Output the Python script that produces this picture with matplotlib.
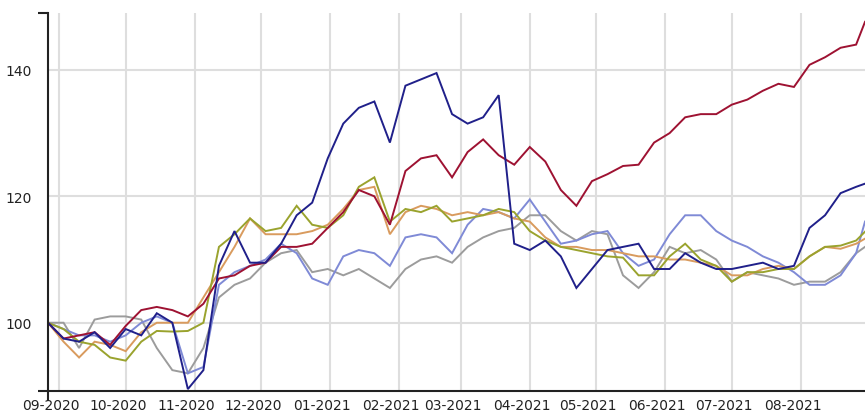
import matplotlib
matplotlib.use('Agg')
import matplotlib.pyplot as plt
import matplotlib.dates as mdates
from matplotlib.transforms import ScaledTranslation
import pandas as pd

# weekly readings, plus the last day shown
dates = list(pd.date_range('2020-08-27', periods=53, freq='7D')) + [pd.Timestamp('2021-08-30')]

navy = [100, 97.5, 97, 98.5, 96, 99, 98, 101.5, 100, 89.5, 92.5, 109, 114.5, 109.5, 109.5, 112.5,
        117, 119, 126, 131.5, 134, 135, 128.5, 137.5, 138.5, 139.5, 133, 131.5, 132.5, 136, 112.5,
        111.5, 113, 110.5, 105.5, 108.5, 111.5, 112, 112.5, 108.5, 108.5, 111, 109.5, 108.5, 108.5,
        109, 109.5, 108.5, 109, 115, 117, 120.5, 121.5, 122]
crimson = [100, 97.5, 98, 98.5, 96.5, 99.5, 102, 102.5, 102, 101, 103, 107, 107.5, 109, 109.5, 112,
           112, 112.5, 115, 117.5, 121, 120, 115.5, 124, 126, 126.5, 123, 127, 129, 126.5, 125,
           127.8, 125.5, 121, 118.5, 122.4, 123.5, 124.8, 125, 128.5, 130, 132.5, 133, 133, 134.5,
           135.3, 136.7, 137.8, 137.3, 140.8, 142, 143.5, 144, 147.6]
olive = [100, 99, 97, 96.5, 94.5, 94, 97, 98.7, 98.6, 98.7, 100, 112, 114, 116.5, 114.5, 115,
         118.5, 115.5, 115, 117, 121.5, 123, 116, 118, 117.5, 118.5, 116, 116.5, 117, 118, 117.5,
         114.5, 113, 112, 111.5, 111, 110.5, 110.3, 107.5, 107.5, 110.5, 112.5, 110, 109, 106.5,
         108, 108, 108.5, 108.5, 110.5, 112, 112.2, 113, 114.4]
tan = [100, 97, 94.5, 97, 96.5, 95.5, 98.5, 100, 100, 100, 104, 108, 112, 116.5, 114, 114,
       114, 114.5, 115.5, 118, 121, 121.5, 114, 117.5, 118.5, 118, 117, 117.5, 117, 117.5, 116.5,
       116, 113.5, 112, 112, 111.5, 111.5, 111, 110.5, 110.5, 110, 110, 109.5, 109, 107.5,
       107.5, 108.5, 109, 108.5, 110.5, 112, 111.7, 112.5, 113.3]
lavender = [100, 99, 98, 98, 97, 98, 100, 101, 100, 92, 93, 106, 108, 109, 110, 112.5,
            111, 107, 106, 110.5, 111.5, 111, 109, 113.5, 114, 113.5, 111, 115.5, 118, 117.5, 116.5,
            119.5, 116, 112.5, 113, 114, 114.5, 111, 109, 110, 114, 117, 117, 114.5, 113,
            112, 110.5, 109.5, 108, 106, 106, 107.5, 111, 116]
gray = [100, 100, 96, 100.5, 101, 101, 100.5, 96, 92.5, 92, 96, 104, 106, 107, 109.5, 111,
        111.5, 108, 108.5, 107.5, 108.5, 107, 105.5, 108.5, 110, 110.5, 109.5, 112, 113.5, 114.5, 115,
        117, 117, 114.5, 113, 114.5, 114, 107.5, 105.5, 108, 112, 111, 111.5, 110, 106.5,
        108, 107.5, 107, 106, 106.5, 106.5, 108, 111, 112]

series = [(gray, '#9c9c9c'), (lavender, '#7f8ad6'), (tan, '#d99b5e'),
          (olive, '#9aa32e'), (crimson, '#9e1232'), (navy, '#20208a')]

fig = plt.figure(figsize=(8.65, 4.14), dpi=100)
ax = fig.add_axes([48 / 865, 22 / 414, 817 / 865, 378 / 414])

for vals, col in series:
    ax.plot(dates, vals, color=col, lw=1.4, solid_joinstyle='miter')

ax.set_xlim(pd.Timestamp('2020-08-27'), pd.Timestamp('2021-08-30'))
ax.set_ylim(89.2, 149)

months = pd.date_range('2020-09-01', '2021-08-01', freq='MS')
ax.set_xticks(months)
ax.xaxis.set_major_formatter(mdates.DateFormatter('%m-%Y'))
ax.set_yticks([100, 120, 140])
ax.tick_params(axis='both', length=0, labelsize=10, colors='#222222')
ax.tick_params(axis='y', pad=12)
ax.tick_params(axis='x', pad=5)
# little marks at the ends of both axes
ax.set_xticks([pd.Timestamp('2020-08-27')], minor=True)
ax.set_yticks([89.2, 149], minor=True)
ax.tick_params(which='minor', length=7, width=1.5, color='#222222')
shift = ScaledTranslation(-8 / 100, 0, fig.dpi_scale_trans)
for lab in ax.get_xticklabels():
    lab.set_transform(lab.get_transform() + shift)

ax.grid(True, color='#dedede', lw=1.5)
ax.set_axisbelow(True)
for s in ['top', 'right']:
    ax.spines[s].set_visible(False)
for s in ['left', 'bottom']:
    ax.spines[s].set_color('#222222')
    ax.spines[s].set_linewidth(1.5)

fig.savefig('out.png', dpi=100)
